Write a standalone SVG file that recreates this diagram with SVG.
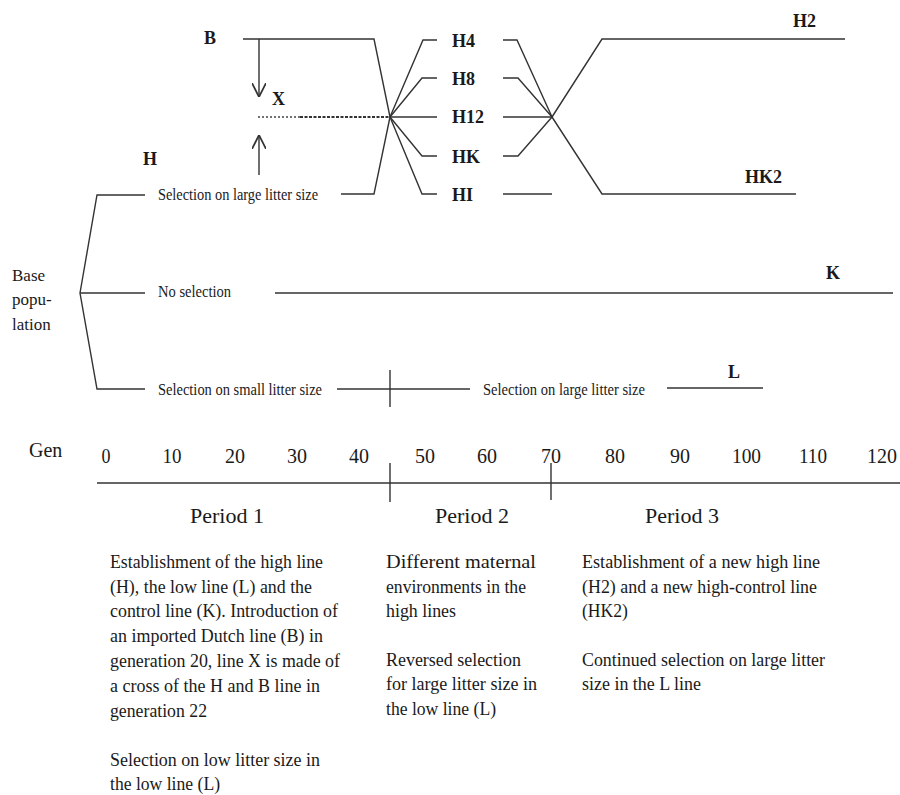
<svg xmlns="http://www.w3.org/2000/svg" width="900" height="795" viewBox="0 0 900 795">
<style>
.ln{fill:none;stroke:#333;stroke-width:1.4}
.t{font-family:"Liberation Serif","Times New Roman",serif;fill:#1a1a1a}
.lab{font-size:18px;font-weight:bold}
.sm{font-size:16px}
.body{font-size:18px}
.num{font-size:22px}
.per{font-size:22px}
</style>
<defs>
<marker id="vh" viewBox="0 0 10 10" refX="10" refY="5" markerWidth="14" markerHeight="14" markerUnits="userSpaceOnUse" orient="auto">
<path d="M0,0 L10,5 L0,10" fill="none" stroke="#333" stroke-width="1.2"/>
</marker>
</defs>
<rect width="900" height="795" fill="#fff"/>
<g id="connectors">
<polyline class="ln" points="145,195 97,195 80,293 97,389 145,389"/>
<line class="ln" x1="80" y1="293" x2="145" y2="293"/>
<line class="ln" x1="275" y1="293" x2="893" y2="293"/>
<polyline class="ln" points="341,194 374,194 390,117"/>
<polyline class="ln" points="243,39 374,39 390,117"/>
<line class="ln" x1="259" y1="39" x2="259" y2="97" marker-end="url(#vh)"/>
<line class="ln" x1="259" y1="175" x2="259" y2="135" marker-end="url(#vh)"/>
<line x1="258" y1="117" x2="300" y2="117" stroke="#444" stroke-width="1.3" stroke-dasharray="2,2"/>
<line x1="300" y1="117" x2="390" y2="117" stroke="#333" stroke-width="2" stroke-dasharray="3,1.5"/>
<polyline class="ln" points="390,117 423,40 437,40"/>
<polyline class="ln" points="390,117 422,78 437,78"/>
<line class="ln" x1="390" y1="117" x2="437" y2="117"/>
<polyline class="ln" points="390,117 422,156 437,156"/>
<polyline class="ln" points="390,117 422,194 437,194"/>
<polyline class="ln" points="503,40 517,40 552,117"/>
<polyline class="ln" points="503,78 518,78 552,117"/>
<line class="ln" x1="503" y1="117" x2="552" y2="117"/>
<polyline class="ln" points="503,156 518,156 552,117"/>
<line class="ln" x1="503" y1="194" x2="552" y2="194"/>
<polyline class="ln" points="552,117 602,39 845,39"/>
<polyline class="ln" points="552,117 602,194 796,194"/>
<line class="ln" x1="337" y1="389" x2="470" y2="389"/>
<line class="ln" x1="390" y1="370" x2="390" y2="407"/>
<line class="ln" x1="667" y1="388" x2="763" y2="388"/>
<line class="ln" x1="97" y1="483" x2="900" y2="483"/>
<line class="ln" x1="390" y1="463" x2="390" y2="502"/>
<line class="ln" x1="551" y1="463" x2="551" y2="500"/>
</g>
<g id="base"><text class="t" font-size="17" x="12" y="281">Base</text><text class="t" font-size="17" x="12" y="305">popu-</text><text class="t" font-size="17" x="12" y="330">lation</text></g>
<g id="sel-large"><text class="t sm" x="158" y="200" textLength="160" lengthAdjust="spacingAndGlyphs">Selection on large litter size</text></g>
<g id="no-sel"><text class="t sm" x="158" y="297" textLength="73" lengthAdjust="spacingAndGlyphs">No selection</text></g>
<g id="sel-small"><text class="t sm" x="158" y="395" textLength="164" lengthAdjust="spacingAndGlyphs">Selection on small litter size</text></g>
<g id="sel-large2"><text class="t sm" x="483" y="395" textLength="162" lengthAdjust="spacingAndGlyphs">Selection on large litter size</text></g>
<g id="B"><text class="t lab" x="204" y="44">B</text></g>
<g id="X"><text class="t lab" x="272" y="105">X</text></g>
<g id="H"><text class="t lab" x="143" y="165">H</text></g>
<g id="H4"><text class="t lab" x="452" y="47">H4</text></g>
<g id="H8"><text class="t lab" x="452" y="85">H8</text></g>
<g id="H12"><text class="t lab" x="452" y="123">H12</text></g>
<g id="HK"><text class="t lab" x="452" y="163">HK</text></g>
<g id="HI"><text class="t lab" x="452" y="201">HI</text></g>
<g id="H2"><text class="t lab" x="793" y="27">H2</text></g>
<g id="HK2"><text class="t lab" x="745" y="183">HK2</text></g>
<g id="K"><text class="t lab" x="826" y="279">K</text></g>
<g id="L"><text class="t lab" x="728" y="378">L</text></g>
<g id="gen">
<text class="t" font-size="20" x="29" y="457">Gen</text>
<text class="t num" x="101.5" y="463" textLength="9" lengthAdjust="spacingAndGlyphs">0</text>
<text class="t num" x="162.5" y="463" textLength="19" lengthAdjust="spacingAndGlyphs">10</text>
<text class="t num" x="225" y="463" textLength="20" lengthAdjust="spacingAndGlyphs">20</text>
<text class="t num" x="287" y="463" textLength="20" lengthAdjust="spacingAndGlyphs">30</text>
<text class="t num" x="349" y="463" textLength="20" lengthAdjust="spacingAndGlyphs">40</text>
<text class="t num" x="415" y="463" textLength="20" lengthAdjust="spacingAndGlyphs">50</text>
<text class="t num" x="477" y="463" textLength="20" lengthAdjust="spacingAndGlyphs">60</text>
<text class="t num" x="541" y="463" textLength="20" lengthAdjust="spacingAndGlyphs">70</text>
<text class="t num" x="605" y="463" textLength="20" lengthAdjust="spacingAndGlyphs">80</text>
<text class="t num" x="670" y="463" textLength="20" lengthAdjust="spacingAndGlyphs">90</text>
<text class="t num" x="732" y="463" textLength="29" lengthAdjust="spacingAndGlyphs">100</text>
<text class="t num" x="799" y="463" textLength="28" lengthAdjust="spacingAndGlyphs">110</text>
<text class="t num" x="867" y="463" textLength="30" lengthAdjust="spacingAndGlyphs">120</text>
</g>
<g id="period1">
<text class="t per" x="190" y="523">Period 1</text>
<text class="t body" x="110" y="568" textLength="213" lengthAdjust="spacingAndGlyphs">Establishment of the high line</text>
<text class="t body" x="110" y="593" textLength="202" lengthAdjust="spacingAndGlyphs">(H), the low line (L) and the</text>
<text class="t body" x="110" y="617" textLength="228" lengthAdjust="spacingAndGlyphs">control line (K). Introduction of</text>
<text class="t body" x="110" y="642" textLength="213" lengthAdjust="spacingAndGlyphs">an imported Dutch line (B) in</text>
<text class="t body" x="110" y="667" textLength="230" lengthAdjust="spacingAndGlyphs">generation 20, line X is made of</text>
<text class="t body" x="110" y="692" textLength="210" lengthAdjust="spacingAndGlyphs">a cross of the H and B line in</text>
<text class="t body" x="110" y="717" textLength="97" lengthAdjust="spacingAndGlyphs">generation 22</text>
<text class="t body" x="110" y="766" textLength="210" lengthAdjust="spacingAndGlyphs">Selection on low litter size in</text>
<text class="t body" x="110" y="790" textLength="110" lengthAdjust="spacingAndGlyphs">the low line (L)</text>
</g>
<g id="period2">
<text class="t per" x="435" y="523">Period 2</text>
<text class="t body" x="386" y="568" textLength="150" lengthAdjust="spacingAndGlyphs">Different maternal</text>
<text class="t body" x="386" y="593" textLength="140" lengthAdjust="spacingAndGlyphs">environments in the</text>
<text class="t body" x="386" y="617" textLength="70" lengthAdjust="spacingAndGlyphs">high lines</text>
<text class="t body" x="386" y="666" textLength="135" lengthAdjust="spacingAndGlyphs">Reversed selection</text>
<text class="t body" x="386" y="690" textLength="151" lengthAdjust="spacingAndGlyphs">for large litter size in</text>
<text class="t body" x="386" y="715" textLength="110" lengthAdjust="spacingAndGlyphs">the low line (L)</text>
</g>
<g id="period3">
<text class="t per" x="645" y="523">Period 3</text>
<text class="t body" x="582" y="568" textLength="238" lengthAdjust="spacingAndGlyphs">Establishment of a new high line</text>
<text class="t body" x="582" y="593" textLength="235" lengthAdjust="spacingAndGlyphs">(H2) and a new high-control line</text>
<text class="t body" x="582" y="617" textLength="46" lengthAdjust="spacingAndGlyphs">(HK2)</text>
<text class="t body" x="582" y="666" textLength="243" lengthAdjust="spacingAndGlyphs">Continued selection on large litter</text>
<text class="t body" x="582" y="690" textLength="119" lengthAdjust="spacingAndGlyphs">size in the L line</text>
</g>
</svg>
